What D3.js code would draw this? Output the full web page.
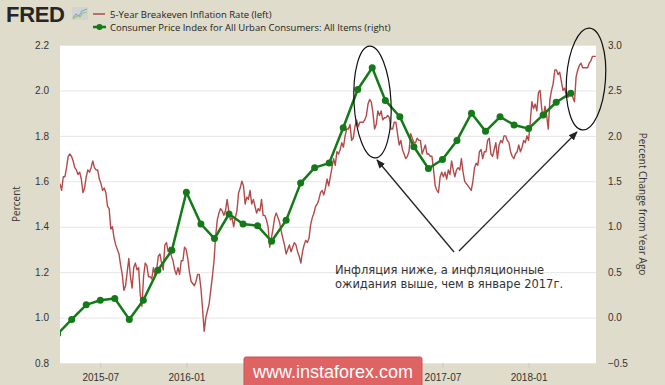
<!DOCTYPE html>
<html lang="ru">
<head>
<meta charset="utf-8">
<title>5-Year Breakeven Inflation Rate vs CPI</title>
<script src="https://d3js.org/d3.v7.min.js"></script>
<style>
  body {
    margin: 0;
    background: #dfdccb;
  }
  svg {
    display: block;
    font-family: 'Open Sans', sans-serif;
  }
  .tick-label {
    fill: #333;
    font-size: 10px;
  }
  .note {
    fill: #333;
    font-family: 'DejaVu Sans', sans-serif;
    font-size: 11.5px;
  }
</style>
</head>
<body>
<div id="chart"></div>
<script>
  // CPI, percent change from year ago (right axis), monthly
  var cpiDates = ["2015-04-01", "2015-05-01", "2015-06-01", "2015-07-01", "2015-08-01", "2015-09-01",
    "2015-10-01", "2015-11-01", "2015-12-01", "2016-01-01", "2016-02-01", "2016-03-01",
    "2016-04-01", "2016-05-01", "2016-06-01", "2016-07-01", "2016-08-01", "2016-09-01",
    "2016-10-01", "2016-11-01", "2016-12-01", "2017-01-01", "2017-02-01", "2017-03-01",
    "2017-04-01", "2017-05-01", "2017-06-01", "2017-07-01", "2017-08-01", "2017-09-01",
    "2017-10-01", "2017-11-01", "2017-12-01", "2018-01-01", "2018-02-01", "2018-03-01", "2018-04-01"];
  var cpiValues = [-0.18, -0.02, 0.14, 0.19, 0.21, -0.02,
    0.19, 0.52, 0.74, 1.38, 1.03, 0.87,
    1.14, 1.03, 1.01, 0.84, 1.07, 1.48,
    1.65, 1.70, 2.09, 2.51, 2.75, 2.39,
    2.21, 1.88, 1.64, 1.74, 1.95, 2.25,
    2.05, 2.21, 2.12, 2.08, 2.23, 2.37, 2.47];

  // 5-year breakeven inflation rate (left axis)
  var breakevenStart = "2015-04-06";
  var breakevenStepHours = 84;
  var breakevenValues = [
    1.59, 1.56, 1.62, 1.62, 1.66, 1.71, 1.72, 1.71, 1.69, 1.66, 1.65, 1.63, 1.64, 1.61, 1.55, 1.57,
    1.62, 1.65, 1.64, 1.66, 1.69, 1.66, 1.65, 1.65, 1.61, 1.59, 1.56, 1.57, 1.55, 1.49, 1.48, 1.39,
    1.40, 1.35, 1.32, 1.30, 1.28, 1.23, 1.19, 1.12, 1.14, 1.20, 1.26, 1.18, 1.13, 1.22, 1.24, 1.21,
    1.22, 1.10, 1.05, 1.18, 1.24, 1.23, 1.18, 1.18, 1.17, 1.22, 1.19, 1.21, 1.27, 1.28, 1.24, 1.21,
    1.32, 1.33, 1.29, 1.31, 1.27, 1.25, 1.21, 1.19, 1.22, 1.19, 1.25, 1.25, 1.31, 1.30, 1.26, 1.20,
    1.16, 1.15, 1.14, 1.16, 1.19, 1.19, 1.13, 1.04, 0.94, 1.00, 1.03, 1.06, 1.12, 1.18, 1.25, 1.36,
    1.43, 1.46, 1.48, 1.47, 1.45, 1.47, 1.52, 1.47, 1.43, 1.44, 1.40, 1.44, 1.47, 1.55, 1.57, 1.60,
    1.58, 1.50, 1.53, 1.52, 1.56, 1.50, 1.52, 1.49, 1.46, 1.48, 1.47, 1.52, 1.45, 1.45, 1.43, 1.40,
    1.31, 1.35, 1.39, 1.44, 1.46, 1.44, 1.42, 1.38, 1.35, 1.32, 1.28, 1.30, 1.32, 1.29, 1.31, 1.33,
    1.32, 1.29, 1.27, 1.24, 1.29, 1.32, 1.34, 1.33, 1.35, 1.41, 1.44, 1.46, 1.49, 1.50, 1.52, 1.55,
    1.56, 1.54, 1.57, 1.61, 1.58, 1.62, 1.66, 1.70, 1.67, 1.73, 1.72, 1.74, 1.77, 1.75, 1.80, 1.83,
    1.83, 1.85, 1.78, 1.79, 1.84, 1.87, 1.84, 1.86, 1.86, 1.86, 1.87, 1.89, 1.94, 1.96, 1.95, 1.90,
    1.83, 1.85, 1.91, 1.89, 1.91, 1.87, 1.88, 1.88, 1.89, 1.88, 1.83, 1.83, 1.86, 1.86, 1.81, 1.76,
    1.78, 1.74, 1.72, 1.70, 1.71, 1.73, 1.81, 1.79, 1.77, 1.77, 1.79, 1.78, 1.78, 1.72, 1.74, 1.76,
    1.72, 1.72, 1.71, 1.71, 1.65, 1.58, 1.56, 1.55, 1.62, 1.64, 1.62, 1.64, 1.61, 1.65, 1.63, 1.69,
    1.65, 1.62, 1.65, 1.66, 1.65, 1.70, 1.64, 1.60, 1.59, 1.58, 1.57, 1.56, 1.60, 1.66, 1.68, 1.67,
    1.73, 1.74, 1.70, 1.73, 1.73, 1.78, 1.79, 1.72, 1.71, 1.74, 1.77, 1.70, 1.76, 1.78, 1.77, 1.80,
    1.80, 1.78, 1.77, 1.73, 1.71, 1.70, 1.72, 1.73, 1.76, 1.73, 1.75, 1.78, 1.77, 1.80, 1.78, 1.86,
    1.95, 1.92, 1.94, 1.91, 1.99, 2.00, 1.92, 1.88, 1.93, 1.89, 1.83, 1.96, 2.00, 2.03, 2.09, 2.09,
    2.07, 2.08, 2.04, 2.00, 2.01, 1.98, 1.97, 1.98, 1.99, 1.97, 1.95, 2.06, 2.09, 2.11, 2.12, 2.10,
    2.10, 2.10, 2.10, 2.12, 2.13, 2.15, 2.15, 2.15];

  var leftTicks = [0.8, 1.0, 1.2, 1.4, 1.6, 1.8, 2.0, 2.2];
  var rightTicks = [-0.5, 0.0, 0.5, 1.0, 1.5, 2.0, 2.5, 3.0];
  var xTicks = ["2015-07-01", "2016-01-01", "2016-07-01", "2017-01-01", "2017-07-01", "2018-01-01"];
  // 2016-07 and 2017-01 sit under the watermark in the picture
  var xTickLabels = ["2015-07", "2016-01", "", "", "2017-07", "2018-01"];

  var legendLabels = ["5-Year Breakeven Inflation Rate (left)",
    "Consumer Price Index for All Urban Consumers: All Items (right)"];
  var noteLines = ["Инфляция ниже, а инфляционные", "ожидания выше, чем в январе 2017г."];

  var redColor = "#b34a4a",
      greenColor = "#137a17";

  var W = 665, H = 385;
  var margin = {top: 45, right: 69, bottom: 22, left: 60},
      width = W - margin.left - margin.right,
      height = H - margin.top - margin.bottom;

  var parse = d3.timeParse("%Y-%m-%d");

  var cpi = cpiDates.map(function(d, i) { return {date: parse(d), value: cpiValues[i]}; });
  var start = parse(breakevenStart);
  var breakeven = breakevenValues.map(function(v, i) {
    return {date: d3.timeHour.offset(start, breakevenStepHours * i), value: v};
  });

  var svg = d3.select("#chart").append("svg")
      .attr("width", W)
      .attr("height", H);

  var x = d3.scaleTime()
      .domain([parse("2015-04-06"), parse("2018-05-25")])
      .range([margin.left, margin.left + width]);
  var yLeft = d3.scaleLinear()
      .domain([0.8, 2.2])
      .range([margin.top + height, margin.top]);
  var yRight = d3.scaleLinear()
      .domain([-0.5, 3.0])
      .range([margin.top + height, margin.top]);

  // plot background
  svg.append("rect")
      .attr("x", margin.left)
      .attr("y", margin.top)
      .attr("width", width)
      .attr("height", height)
      .attr("fill", "#fff");

  svg.append("clipPath").attr("id", "plot-clip")
    .append("rect")
      .attr("x", margin.left)
      .attr("y", margin.top - 4)
      .attr("width", width)
      .attr("height", height + 4);

  // gridlines
  svg.append("g").selectAll("line")
      .data(leftTicks)
      .enter().append("line")
      .attr("x1", margin.left)
      .attr("x2", margin.left + width)
      .attr("y1", d => yLeft(d) + 0.5)
      .attr("y2", d => yLeft(d) + 0.5)
      .attr("stroke", "#e6e6e6")
      .attr("stroke-width", 1);

  // left axis
  var gl = svg.append("g")
      .attr("transform", "translate(" + margin.left + ",0)")
      .call(d3.axisLeft(yLeft).tickValues(leftTicks).tickFormat(d3.format(".1f")).tickSize(0).tickPadding(11));
  gl.select(".domain").remove();
  gl.selectAll("text").attr("class", "tick-label").attr("fill", "#333");

  // right axis
  var gr = svg.append("g")
      .attr("transform", "translate(" + (margin.left + width) + ",0)")
      .call(d3.axisRight(yRight).tickValues(rightTicks).tickFormat(d3.format(".1f")).tickSize(0).tickPadding(12));
  gr.select(".domain").remove();
  gr.selectAll("text").attr("class", "tick-label").attr("fill", "#333");

  // bottom axis
  var gb = svg.append("g")
      .attr("transform", "translate(0," + (margin.top + height) + ")")
      .call(d3.axisBottom(x).tickValues(xTicks.map(parse))
        .tickFormat((d, i) => xTickLabels[i]).tickSize(5).tickPadding(6));
  gb.select(".domain").remove();
  gb.selectAll("line").attr("stroke", "#c8c8c8");
  gb.selectAll("text").attr("class", "tick-label").attr("fill", "#333");

  // axis titles
  svg.append("text")
      .attr("class", "tick-label")
      .attr("transform", "translate(20," + (margin.top + height / 2) + ") rotate(-90)")
      .attr("text-anchor", "middle")
      .text("Percent");
  svg.append("text")
      .attr("class", "tick-label")
      .attr("transform", "translate(639," + (margin.top + height / 2) + ") rotate(90)")
      .attr("text-anchor", "middle")
      .text("Percent Change from Year Ago");

  var plot = svg.append("g").attr("clip-path", "url(#plot-clip)");

  // breakeven line
  plot.append("path")
      .datum(breakeven)
      .attr("fill", "none")
      .attr("stroke", redColor)
      .attr("stroke-width", 1.4)
      .attr("stroke-linejoin", "round")
      .attr("d", d3.line().x(d => x(d.date)).y(d => yLeft(d.value)));

  // cpi line + dots
  plot.append("path")
      .datum(cpi)
      .attr("fill", "none")
      .attr("stroke", greenColor)
      .attr("stroke-width", 2.5)
      .attr("stroke-linejoin", "round")
      .attr("d", d3.line().x(d => x(d.date)).y(d => yRight(d.value)));
  plot.selectAll("circle")
      .data(cpi)
      .enter().append("circle")
      .attr("cx", d => x(d.date))
      .attr("cy", d => yRight(d.value))
      .attr("r", 3.5)
      .attr("fill", greenColor);

  // FRED logo
  svg.append("text")
      .attr("x", 6)
      .attr("y", 22)
      .attr("font-family", "'Liberation Sans', Arial, sans-serif")
      .attr("font-weight", "bold")
      .attr("font-size", "22px")
      .attr("letter-spacing", "-0.3")
      .attr("fill", "#262626")
      .text("FRED");
  var icon = svg.append("g").attr("transform", "translate(72,7)");
  icon.append("rect").attr("width", 16).attr("height", 13).attr("fill", "#c9cfd8").attr("opacity", 0.6);
  icon.append("polyline").attr("points", "1,11 4,7 7,9 10,4 15,2").attr("fill", "none").attr("stroke", "#86a8d0").attr("stroke-width", 1.2);
  icon.append("polyline").attr("points", "1,12 5,9 8,10 11,6 15,5").attr("fill", "none").attr("stroke", "#9cc47a").attr("stroke-width", 1.2);

  // legend
  var legend = svg.append("g");
  legend.append("line")
      .attr("x1", 93).attr("x2", 105).attr("y1", 14).attr("y2", 14)
      .attr("stroke", redColor).attr("stroke-width", 1.5);
  legend.append("line")
      .attr("x1", 93).attr("x2", 106).attr("y1", 27).attr("y2", 27)
      .attr("stroke", greenColor).attr("stroke-width", 2.5);
  legend.append("circle")
      .attr("cx", 99.5).attr("cy", 27).attr("r", 3)
      .attr("fill", greenColor);
  legend.selectAll("text")
      .data(legendLabels)
      .enter().append("text")
      .attr("x", 110)
      .attr("y", (d, i) => 17.5 + i * 13)
      .attr("font-size", "9.5px")
      .attr("fill", "#222")
      .text(d => d);

  // annotation: ellipses, arrows, note
  var defs = svg.append("defs");
  defs.append("marker")
      .attr("id", "arrow")
      .attr("viewBox", "0 0 10 10")
      .attr("refX", 9).attr("refY", 5)
      .attr("markerWidth", 7).attr("markerHeight", 7)
      .attr("orient", "auto")
    .append("path")
      .attr("d", "M0,1 L10,5 L0,9 z")
      .attr("fill", "#222");

  svg.append("ellipse")
      .attr("cx", 372.5).attr("cy", 102).attr("rx", 18.5).attr("ry", 56)
      .attr("transform", "rotate(-3,372.5,102)")
      .attr("fill", "none").attr("stroke", "#111").attr("stroke-width", 1.2);
  svg.append("ellipse")
      .attr("cx", 586).attr("cy", 79).attr("rx", 19.5).attr("ry", 51)
      .attr("transform", "rotate(4,586,79)")
      .attr("fill", "none").attr("stroke", "#111").attr("stroke-width", 1.2);

  svg.append("line")
      .attr("x1", 454).attr("y1", 252).attr("x2", 377).attr("y2", 160)
      .attr("stroke", "#222").attr("stroke-width", 1.3)
      .attr("marker-end", "url(#arrow)");
  svg.append("line")
      .attr("x1", 459).attr("y1", 251).attr("x2", 577).attr("y2", 132)
      .attr("stroke", "#222").attr("stroke-width", 1.3)
      .attr("marker-end", "url(#arrow)");

  svg.selectAll(".note")
      .data(noteLines)
      .enter().append("text")
      .attr("class", "note")
      .attr("x", 335)
      .attr("y", (d, i) => 274 + i * 14)
      .text(d => d);

  // watermark
  var wm = svg.append("g");
  wm.append("rect")
      .attr("x", 244).attr("y", 357)
      .attr("width", 178).attr("height", 32)
      .attr("rx", 2)
      .attr("fill", "#df6363")
      .attr("stroke", "#c95454");
  wm.append("text")
      .attr("x", 333).attr("y", 378)
      .attr("text-anchor", "middle")
      .attr("font-family", "'Liberation Sans', Arial, sans-serif")
      .attr("font-size", "18px")
      .attr("fill", "#fff")
      .text("www.instaforex.com");
</script>
</body>
</html>
